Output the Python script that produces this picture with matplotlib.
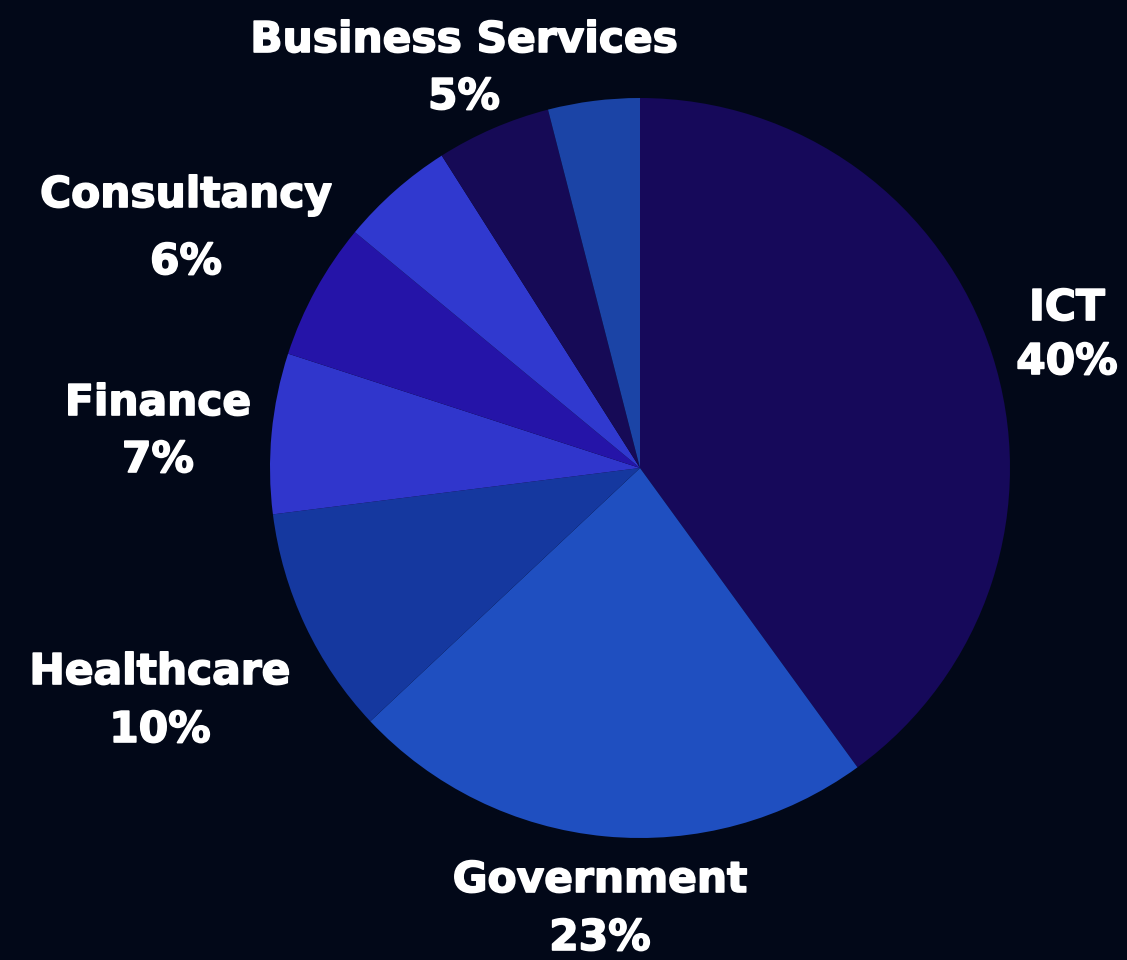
import matplotlib.pyplot as plt
import matplotlib.patheffects as pe

# Data
sectors = ['ICT', 'Government', 'Healthcare', 'Finance', 'Consultancy', 'Other A', 'Business Services', 'Other B']
shares = [40, 23, 10, 7, 6, 5, 5, 4]
colors = ['#16095a', '#1f4fc0', '#15389f', '#3036cc', '#2514a8', '#3039cf', '#160a56', '#1b44a6']
labelled = ['Business Services', 'Consultancy', 'Finance', 'Healthcare', 'Government', 'ICT']

# label anchor points in pixels (name centre, percent centre)
label_pos = {
    'Business Services': ((464, 40), (464, 97)),
    'Consultancy': ((186, 195), (186, 262)),
    'Finance': ((158, 403), (158, 460)),
    'Healthcare': ((160, 672), (160, 730)),
    'Government': ((600, 880), (600, 938)),
    'ICT': ((1067, 308), (1067, 362)),
}

W, H = 1127, 960
bg = '#020818'
fig = plt.figure(figsize=(W / 100, H / 100), dpi=100, facecolor=bg)

# pie centre (640, 468), radius 370 px
cx, cy, r = 640, 468, 370
ax = fig.add_axes([(cx - r) / W, (H - cy - r) / H, 2 * r / W, 2 * r / H])
ax.set_facecolor(bg)
ax.pie(shares, colors=colors, startangle=90, counterclock=False,
       wedgeprops={'linewidth': 0})
ax.set_xlim(-1, 1)
ax.set_ylim(-1, 1)
ax.axis('off')

font = dict(color='white', fontsize=30.5, fontweight='bold', family=['DejaVu Sans'],
            ha='center', va='center',
            path_effects=[pe.withStroke(linewidth=1.2, foreground='white')])
for name in labelled:
    val = shares[sectors.index(name)]
    (nx, ny), (px, py) = label_pos[name]
    fig.text(nx / W, 1 - ny / H, name, **font)
    fig.text(px / W, 1 - py / H, f'{val}%', **font)

plt.savefig('out.png', dpi=100, facecolor=bg)
